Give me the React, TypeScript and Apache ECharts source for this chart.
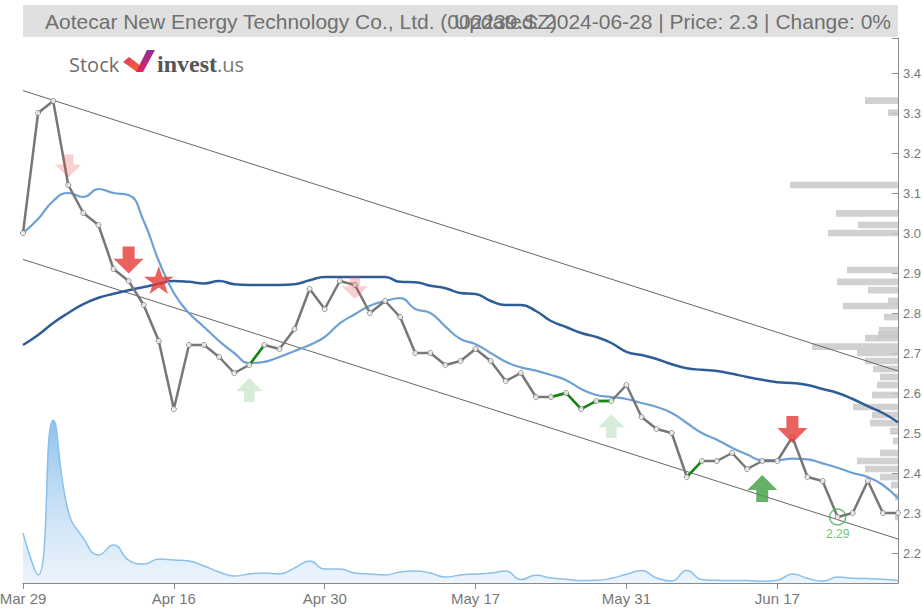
import React, { useEffect, useRef } from 'react';
import * as echarts from 'echarts';

// ---------- data ----------
const dates = [
  'Mar 29', 'Apr 1', 'Apr 2', 'Apr 3', 'Apr 8', 'Apr 9', 'Apr 10', 'Apr 11', 'Apr 12', 'Apr 15',
  'Apr 16', 'Apr 17', 'Apr 18', 'Apr 19', 'Apr 22', 'Apr 23', 'Apr 24', 'Apr 25', 'Apr 26', 'Apr 29',
  'Apr 30', 'May 6', 'May 7', 'May 8', 'May 9', 'May 10', 'May 13', 'May 14', 'May 15', 'May 16',
  'May 17', 'May 20', 'May 21', 'May 22', 'May 23', 'May 24', 'May 27', 'May 28', 'May 29', 'May 30',
  'May 31', 'Jun 3', 'Jun 4', 'Jun 5', 'Jun 6', 'Jun 7', 'Jun 11', 'Jun 12', 'Jun 13', 'Jun 14',
  'Jun 17', 'Jun 18', 'Jun 19', 'Jun 20', 'Jun 21', 'Jun 24', 'Jun 25', 'Jun 26', 'Jun 27',
];

const closePrice = [
  3.00, 3.30, 3.33, 3.12, 3.05, 3.02, 2.91, 2.88, 2.82, 2.73,
  2.56, 2.72, 2.72, 2.69, 2.65, 2.67, 2.72, 2.71, 2.76, 2.86,
  2.81, 2.88, 2.87, 2.80, 2.83, 2.79, 2.70, 2.70, 2.67, 2.68,
  2.71, 2.68, 2.63, 2.65, 2.59, 2.59, 2.60, 2.56, 2.58, 2.58,
  2.62, 2.54, 2.51, 2.50, 2.39, 2.43, 2.43, 2.45, 2.41, 2.43,
  2.43, 2.49, 2.39, 2.38, 2.29, 2.30, 2.38, 2.30, 2.30,
];

const maShort = [
  3.00, 3.035, 3.08, 3.10, 3.09, 3.11, 3.10, 3.095, 3.03, 2.93,
  2.85, 2.80, 2.765, 2.73, 2.70, 2.675, 2.678, 2.69, 2.705, 2.72,
  2.74, 2.774, 2.797, 2.818, 2.83, 2.837, 2.81, 2.80, 2.766, 2.735,
  2.722, 2.70, 2.678, 2.664, 2.656, 2.645, 2.632, 2.61, 2.595, 2.59,
  2.585, 2.575, 2.565, 2.55, 2.525, 2.50, 2.483, 2.463, 2.446, 2.432,
  2.432, 2.436, 2.434, 2.424, 2.413, 2.40, 2.39, 2.37, 2.337,
];

const maLong = [
  2.72, 2.745, 2.775, 2.80, 2.822, 2.838, 2.848, 2.857, 2.865, 2.873,
  2.88, 2.878, 2.874, 2.88, 2.872, 2.870, 2.870, 2.870, 2.872, 2.882,
  2.89, 2.89, 2.89, 2.89, 2.89, 2.878, 2.877, 2.868, 2.862, 2.85,
  2.8475, 2.83, 2.82, 2.82, 2.805, 2.78, 2.765, 2.75, 2.74, 2.725,
  2.703, 2.695, 2.685, 2.672, 2.662, 2.658, 2.655, 2.648, 2.64, 2.633,
  2.627, 2.625, 2.62, 2.61, 2.60, 2.585, 2.567, 2.55, 2.527,
];

const volume = [
  50, 8, 163, 72, 45, 28, 38, 23, 19, 24,
  23, 22, 17, 11, 7, 9, 10, 9, 15, 22,
  14, 14, 10, 9, 8, 11, 12, 10, 6, 8,
  9, 10, 12, 3.4, 7.7, 5, 3.7, 2.4, 2.7, 4.7,
  8.7, 12.4, 5, 2, 12.4, 3.4, 2.7, 2.4, 2.4, 1.7,
  2.7, 9, 4.7, 1.7, 6, 4.7, 4.4, 3.7, 2.4,
];

// volume-by-price profile: price level, traded volume
const profileLevels = [
  3.331, 3.301, 3.12, 3.049, 3.02, 3.00, 2.9075, 2.878, 2.857, 2.83,
  2.8175, 2.79, 2.757, 2.745, 2.737, 2.716, 2.70, 2.68, 2.66, 2.64,
  2.62, 2.595, 2.565, 2.545, 2.525, 2.505, 2.48, 2.45, 2.43, 2.41,
  2.39, 2.37, 2.34, 2.29,
];
const profileVolume = [
  33, 10, 108, 62, 40, 70, 51, 61, 30, 10,
  55, 14, 19, 20, 33, 86, 41, 33, 25, 18,
  21, 26, 45, 26, 28, 8, 5, 18, 41, 33,
  18, 7, 3, 3,
];

const greenRuns = [[15, 16], [35, 39], [44, 45]];
const upperChannel = [3.356, 2.655];
const lowerChannel = [2.934, 2.235];

const sellSignals = [[7, 2.9325], [51, 2.509]];
const sellFaded = [[3, 3.1675], [22, 2.864]];
const buySignals = [[49, 2.361]];
const buyFaded = [[15, 2.6075], [39, 2.5175]];
const crossStar = [[9, 2.8825]];
const lowPoint = [[54, 2.29]];

const yTicks = [2.2, 2.3, 2.4, 2.5, 2.6, 2.7, 2.8, 2.9, 3.0, 3.1, 3.2, 3.3, 3.4];
const yMin = 2.125;
const yMax = 3.4875;

const titleLeft = 'Aotecar New Energy Technology Co., Ltd. (002239.SZ)';
const titleRight = 'Updated: 2024-06-28 | Price: 2.3 | Change: 0%';

// ---------- shapes ----------
const downArrow = 'path://M30,0L70,0L70,45L100,45L50,100L0,45L30,45Z';
const upArrow = 'path://M50,0L100,55L70,55L70,100L30,100L30,55L0,55Z';
const star = 'path://M50,0L61.8,35.1L98.1,35.1L68.8,56.7L79.4,91.1L50,70L20.6,91.1L31.2,56.7L1.9,35.1L38.2,35.1Z';

const FONT = '"Liberation Sans", Arial, sans-serif';

export default function App() {
  const ref = useRef<HTMLDivElement>(null);

  useEffect(() => {
    if (!ref.current) return;
    const chart = echarts.init(ref.current, undefined, { renderer: 'svg' });

    const n = dates.length;
    const greenLine: (number | null)[] = closePrice.map(() => null);
    greenRuns.forEach(([a, b]) => {
      for (let i = a; i <= b; i++) greenLine[i] = closePrice[i];
    });
    const channel = (ends: number[]) =>
      dates.map((_, i) => (i === 0 ? ends[0] : i === n - 1 ? ends[1] : null));

    const volMax = Math.max(...volume) * 3.35;
    const profileMax = Math.max(...profileVolume) * 8.1;
    const profileData = profileLevels.map((p, i) => [profileVolume[i], p]);

    const option: any = {
      animation: false,
      backgroundColor: '#ffffff',
      grid: { left: 23, right: 25, top: 38, bottom: 25, containLabel: false, outerBoundsMode: 'none' },
      xAxis: [
        {
          type: 'category',
          data: dates,
          boundaryGap: false,
          axisLine: { lineStyle: { color: '#8a8a8a', width: 1 } },
          axisTick: { interval: 9, length: 6, lineStyle: { color: '#8a8a8a' } },
          axisLabel: { interval: 9, color: '#777777', fontSize: 15, fontFamily: FONT, margin: 8 },
          splitLine: { show: false },
        },
        { type: 'value', gridIndex: 0, min: 0, max: profileMax, inverse: true, show: false },
      ],
      yAxis: [
        {
          type: 'value',
          position: 'right',
          min: yMin,
          max: yMax,
          axisLine: { show: true, lineStyle: { color: '#8a8a8a', width: 1 } },
          axisTick: { show: true, inside: true, length: 6, customValues: [...yTicks, yMax], lineStyle: { color: '#8a8a8a' } },
          axisLabel: {
            customValues: yTicks,
            color: '#777777',
            fontSize: 13,
            fontFamily: FONT,
            margin: 5,
            formatter: (v: number) => v.toFixed(1),
          },
          splitLine: { show: false },
        },
        { type: 'value', min: 0, max: volMax, show: false },
      ],
      series: [
        {
          type: 'custom',
          name: 'profile',
          xAxisIndex: 1,
          yAxisIndex: 0,
          z: 1,
          silent: true,
          data: profileData,
          renderItem: (params: any, api: any) => {
            const v = api.value(0);
            const p = api.value(1);
            const a = api.coord([0, p]);
            const b = api.coord([v, p]);
            const h = api.size([0, 0.0167])[1];
            return {
              type: 'rect',
              shape: { x: b[0], y: a[1] - h / 2, width: a[0] - b[0], height: h },
              style: { fill: '#c6c6c6', opacity: 0.8 },
            };
          },
        },
        {
          type: 'line',
          name: 'volume',
          yAxisIndex: 1,
          data: volume,
          smooth: true,
          showSymbol: false,
          z: 1,
          lineStyle: { color: '#8cc0ea', width: 1.5 },
          areaStyle: {
            color: new echarts.graphic.LinearGradient(0, 0, 0, 1, [
              { offset: 0, color: 'rgba(84,162,226,0.95)' },
              { offset: 1, color: 'rgba(205,226,246,0.55)' },
            ]),
          },
        },
        {
          type: 'line',
          name: 'upper',
          data: channel(upperChannel),
          connectNulls: true,
          showSymbol: false,
          z: 2,
          lineStyle: { color: '#666666', width: 1 },
        },
        {
          type: 'line',
          name: 'lower',
          data: channel(lowerChannel),
          connectNulls: true,
          showSymbol: false,
          z: 2,
          lineStyle: { color: '#666666', width: 1 },
        },
        {
          type: 'line',
          name: 'MA long',
          data: maLong,
          smooth: true,
          showSymbol: false,
          z: 3,
          lineStyle: { color: '#2f5e97', width: 2.5 },
        },
        {
          type: 'line',
          name: 'MA short',
          data: maShort,
          smooth: true,
          showSymbol: false,
          z: 3,
          lineStyle: { color: '#6fa0d3', width: 2.2 },
        },
        {
          type: 'line',
          name: 'price',
          data: closePrice,
          showSymbol: false,
          z: 4,
          lineStyle: { color: '#777777', width: 2.5 },
        },
        {
          type: 'line',
          name: 'green',
          data: greenLine,
          connectNulls: false,
          showSymbol: false,
          z: 4,
          lineStyle: { color: '#128a12', width: 2.5 },
        },
        {
          type: 'scatter',
          name: 'points',
          data: closePrice,
          symbol: 'circle',
          symbolSize: 5,
          z: 5,
          itemStyle: { color: '#ffffff', borderColor: '#777777', borderWidth: 1 },
        },
        {
          type: 'scatter',
          data: sellFaded,
          symbol: downArrow,
          symbolSize: [26, 23],
          z: 6,
          itemStyle: { color: 'rgba(232,70,70,0.32)' },
        },
        {
          type: 'scatter',
          data: buyFaded,
          symbol: upArrow,
          symbolSize: [26, 24],
          z: 6,
          itemStyle: { color: 'rgba(76,170,80,0.28)' },
        },
        {
          type: 'scatter',
          data: sellSignals,
          symbol: downArrow,
          symbolSize: [30, 27],
          z: 6,
          itemStyle: { color: '#e53935' },
        },
        {
          type: 'scatter',
          data: buySignals,
          symbol: upArrow,
          symbolSize: [30, 27],
          z: 6,
          itemStyle: { color: '#3f9d42' },
        },
        {
          type: 'scatter',
          data: crossStar,
          symbol: star,
          symbolSize: [30, 28],
          z: 6,
          itemStyle: { color: '#e53935' },
        },
        {
          type: 'scatter',
          data: lowPoint,
          symbol: 'circle',
          symbolSize: 16,
          z: 6,
          itemStyle: { color: 'rgba(0,0,0,0)', borderColor: '#4caf50', borderWidth: 1.5 },
          label: {
            show: true,
            position: 'bottom',
            distance: 2,
            color: '#4caf50',
            fontSize: 12,
            fontFamily: FONT,
            formatter: (p: any) => p.value[1].toFixed(2),
          },
        },
      ],
      graphic: [
        {
          type: 'rect',
          silent: true,
          shape: { x: 23, y: 5, width: 875, height: 32 },
          style: { fill: '#e0e0e0' },
        },
        {
          type: 'text',
          silent: true,
          x: 45,
          y: 21,
          style: {
            text: titleLeft,
            fontSize: 21,
            fontFamily: FONT,
            fill: '#707070',
            align: 'left',
            textAlign: 'left',
            verticalAlign: 'middle',
            textVerticalAlign: 'middle',
          },
        },
        {
          type: 'text',
          silent: true,
          x: 891,
          y: 21,
          style: {
            text: titleRight,
            fontSize: 21,
            fontFamily: FONT,
            fill: '#707070',
            align: 'right',
            textAlign: 'right',
            verticalAlign: 'middle',
            textVerticalAlign: 'middle',
          },
        },
        {
          type: 'text',
          silent: true,
          x: 69,
          y: 64,
          style: {
            text: 'Stock',
            fontSize: 20,
            fontFamily: '"Open Sans", sans-serif',
            fill: '#6d6d6d',
            verticalAlign: 'middle',
            textVerticalAlign: 'middle',
          },
        },
        {
          type: 'polygon',
          silent: true,
          shape: { points: [[123, 62], [129, 57], [141, 66], [137, 72]] },
          style: {
            fill: new echarts.graphic.LinearGradient(0, 0, 1, 1, [
              { offset: 0, color: '#e8336b' },
              { offset: 1, color: '#f36f21' },
            ]),
          },
        },
        {
          type: 'polygon',
          silent: true,
          shape: { points: [[136, 72], [147, 50], [155, 50], [143, 72]] },
          style: {
            fill: new echarts.graphic.LinearGradient(0, 1, 0, 0, [
              { offset: 0, color: '#e3245f' },
              { offset: 1, color: '#8f2c96' },
            ]),
          },
        },
        {
          type: 'text',
          silent: true,
          x: 157,
          y: 64,
          style: {
            text: 'invest',
            fontSize: 24,
            fontWeight: 'bold',
            fontFamily: '"Liberation Serif", serif',
            fill: '#555555',
            verticalAlign: 'middle',
            textVerticalAlign: 'middle',
          },
        },
        {
          type: 'text',
          silent: true,
          x: 217,
          y: 64,
          style: {
            text: '.us',
            fontSize: 20,
            fontFamily: '"Open Sans", sans-serif',
            fill: '#777777',
            verticalAlign: 'middle',
            textVerticalAlign: 'middle',
          },
        },
      ],
    };

    chart.setOption(option);
    return () => chart.dispose();
  }, []);

  return (
    <div
      ref={ref}
      style={{ position: 'absolute', left: 0, top: 0, width: 923, height: 608, background: '#fff' }}
    />
  );
}
